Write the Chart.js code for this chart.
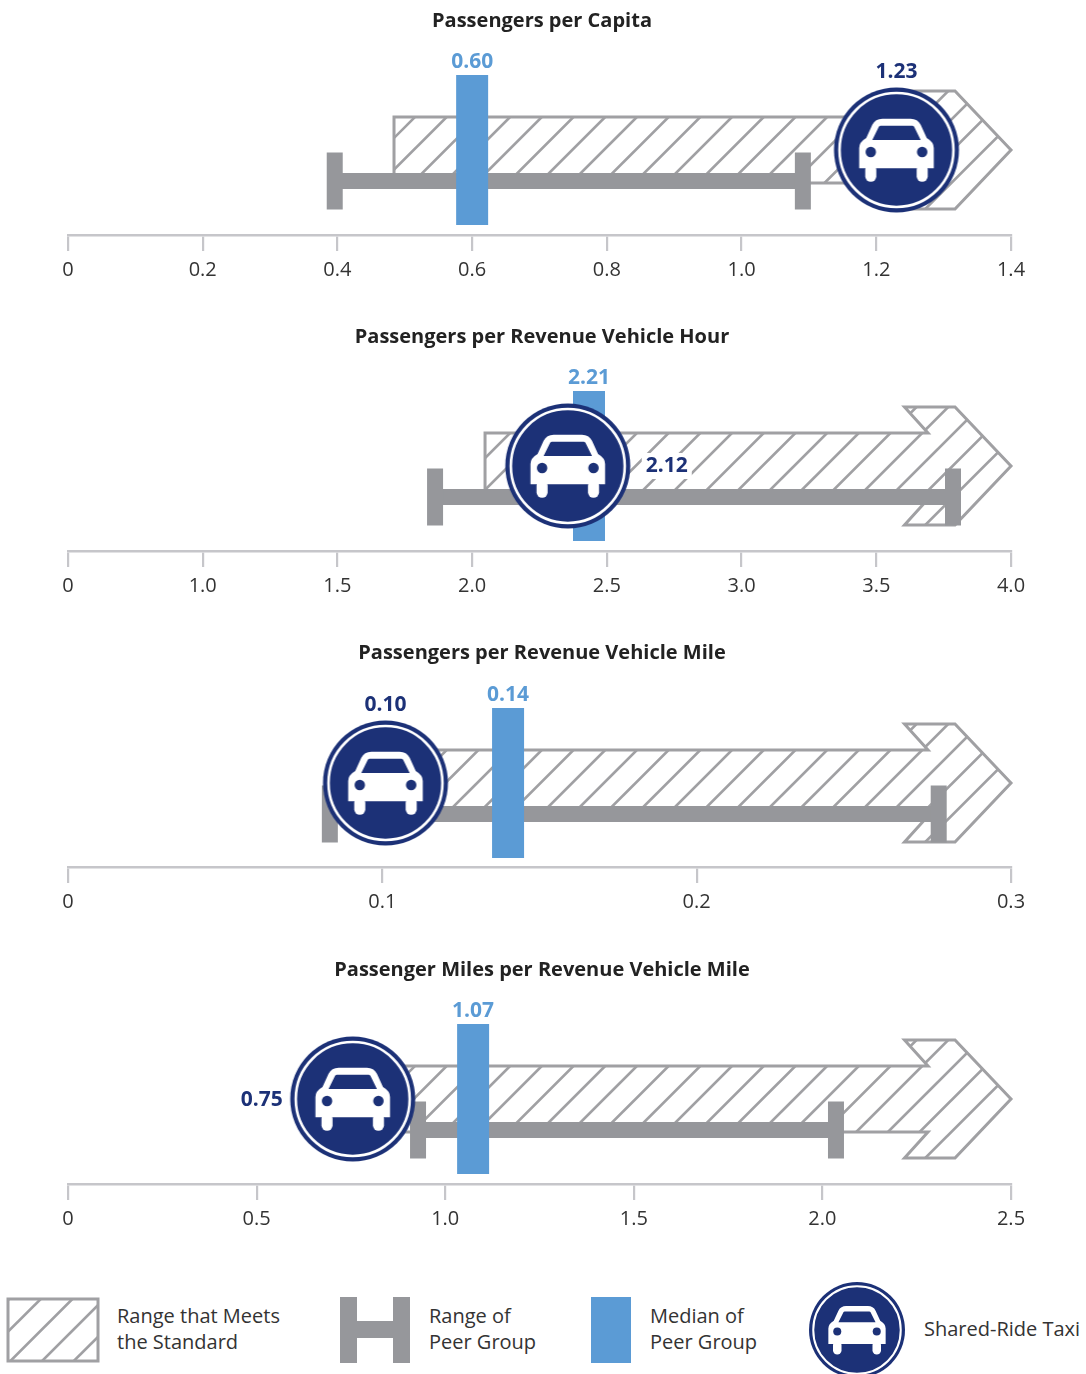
<!DOCTYPE html>
<html>
<head>
<meta charset="utf-8">
<title>Peer comparison of shared-ride taxi performance</title>
<script src="https://cdn.jsdelivr.net/npm/chart.js@4"></script>
<style>
  html, body { margin: 0; padding: 0; background: #fff; width: 1086px; height: 1374px; overflow: hidden; }
  body { position: relative; font-family: "Open Sans", sans-serif; color: #333; }
  .panel { position: absolute; left: 0; display: block; }
  .key { position: absolute; display: block; }
  .keytext { position: absolute; font-size: 20px; line-height: 26px; white-space: nowrap; color: #333; }
</style>
</head>
<body>
<canvas class="panel" id="panel0" width="1086" height="290" style="top:0"></canvas>
<canvas class="panel" id="panel1" width="1086" height="290" style="top:316px"></canvas>
<canvas class="panel" id="panel2" width="1086" height="290" style="top:632px"></canvas>
<canvas class="panel" id="panel3" width="1086" height="290" style="top:949px"></canvas>

<canvas class="key" id="keyStandard" width="96" height="70" style="left:5px;top:1295px"></canvas>
<div class="keytext" style="left:117px;top:1303px">Range that Meets<br>the Standard</div>
<canvas class="key" id="keyPeer" width="70" height="66" style="left:340px;top:1297px"></canvas>
<div class="keytext" style="left:429px;top:1303px">Range of<br>Peer Group</div>
<canvas class="key" id="keyMedian" width="40" height="66" style="left:591px;top:1297px"></canvas>
<div class="keytext" style="left:650px;top:1303px">Median of<br>Peer Group</div>
<canvas class="key" id="keyTaxi" width="100" height="100" style="left:807px;top:1280px"></canvas>
<div class="keytext" style="left:924px;top:1316px">Shared-Ride Taxi</div>

<script>
// Performance measures, one entry per panel
const titles = [
  'Passengers per Capita',
  'Passengers per Revenue Vehicle Hour',
  'Passengers per Revenue Vehicle Mile',
  'Passenger Miles per Revenue Vehicle Mile'
];
const axisMax = [1.4, 4.0, 0.3, 2.5];
const tickLabels = [
  ['0', '0.2', '0.4', '0.6', '0.8', '1.0', '1.2', '1.4'],
  ['0', '1.0', '1.5', '2.0', '2.5', '3.0', '3.5', '4.0'],
  ['0', '0.1', '0.2', '0.3'],
  ['0', '0.5', '1.0', '1.5', '2.0', '2.5']
];
const standardLow = [0.484, 1.769, 0.1, 0.85];
const standardHigh = [1.4, 4.0, 0.3, 2.5];
const peerLow = [0.396, 1.557, 0.0833, 0.928];
const peerHigh = [1.091, 3.754, 0.277, 2.036];
const peerMedian = [0.60, 2.21, 0.14, 1.074];
const taxiValue = [1.23, 2.12, 0.101, 0.7549];
const taxiLabelSide = ['top', 'right', 'top', 'left'];

const NAVY = '#1c3177';
const BLUE = '#5b9bd5';
const GREY = '#96979b';
const HATCH = '#a0a0a3';
const AXIS = '#c6c6ca';
const FONT = '"Open Sans", sans-serif';

// Vertical lanes, in pixels above the axis line
const LANE_CENTRE = 85;
const LANE_PEER = 54;
const PLOT_HEIGHT = 195;
const laneNudge = [0, 0, -1, 0];

// Diagonal fill clipped to whatever path the caller has already traced
function strokeHatch(ctx, x0, y0, x1, y1, phase) {
  const step = 31.7;
  ctx.lineWidth = 2.6;
  ctx.strokeStyle = HATCH;
  const first = Math.floor((x0 + y0 - phase) / step) * step + phase;
  for (let c = first; c < x1 + y1 + step; c += step) {
    ctx.beginPath();
    ctx.moveTo(c - y0, y0);
    ctx.lineTo(c - y1, y1);
    ctx.stroke();
  }
}

// Taxi badge: navy disc, white ring, front view of a car
function drawBadge(ctx, cx, cy, r) {
  const k = r / 62;
  ctx.save();
  ctx.translate(cx, cy);
  ctx.scale(k, k);
  ctx.fillStyle = NAVY;
  ctx.beginPath(); ctx.arc(0, 0, 62, 0, Math.PI * 2); ctx.fill();
  ctx.strokeStyle = '#fff';
  ctx.lineWidth = 2.6;
  ctx.beginPath(); ctx.arc(0, 0, 56.5, 0, Math.PI * 2); ctx.stroke();

  ctx.fillStyle = '#fff';
  ctx.beginPath();
  ctx.moveTo(-37, 18);
  ctx.lineTo(-37, -2);
  ctx.quadraticCurveTo(-37, -8, -30, -12);
  ctx.lineTo(-24, -25);
  ctx.quadraticCurveTo(-21, -31, -14, -31);
  ctx.lineTo(14, -31);
  ctx.quadraticCurveTo(21, -31, 24, -25);
  ctx.lineTo(30, -12);
  ctx.quadraticCurveTo(37, -8, 37, -2);
  ctx.lineTo(37, 18);
  ctx.closePath();
  ctx.fill();
  for (const side of [-1, 1]) {
    ctx.beginPath();
    ctx.roundRect(side * 25.5 - 5.5, 14, 11, 17.5, 5.5);
    ctx.fill();
  }
  ctx.fillStyle = NAVY;
  ctx.beginPath();
  ctx.moveTo(-16, -24);
  ctx.lineTo(16, -24);
  ctx.quadraticCurveTo(17.5, -24, 18.5, -21);
  ctx.lineTo(24, -10);
  ctx.lineTo(-24, -10);
  ctx.lineTo(-18.5, -21);
  ctx.quadraticCurveTo(-17.5, -24, -16, -24);
  ctx.fill();
  for (const side of [-1, 1]) {
    ctx.beginPath(); ctx.arc(side * 25.5, 2, 5.2, 0, Math.PI * 2); ctx.fill();
  }
  ctx.restore();
}

const badgeSprite = document.createElement('canvas');
badgeSprite.width = 128;
badgeSprite.height = 128;
drawBadge(badgeSprite.getContext('2d'), 64, 64, 62.5);

// Hatched arrow for the standard range, traced from its dataset's two points
const standardArrow = {
  id: 'standardArrow',
  afterLayout(chart) {
    // Centre the heading on the page rather than on the plot
    chart.titleBlock.left += 2.5;
    chart.titleBlock.right += 2.5;
  },
  beforeDatasetsDraw(chart) {
    const pts = chart.getDatasetMeta(0).data;
    if (!pts.length) return;
    const ctx = chart.ctx;
    const left = pts[0].x, tip = pts[1].x, cy = pts[0].y;
    const shaft = 33, head = 59;
    const trace = () => {
      ctx.beginPath();
      ctx.moveTo(left, cy - shaft);
      ctx.lineTo(tip - 83, cy - shaft);
      ctx.lineTo(tip - 106.5, cy - head);
      ctx.lineTo(tip - 56, cy - head);
      ctx.lineTo(tip, cy);
      ctx.lineTo(tip - 56, cy + head);
      ctx.lineTo(tip - 106.5, cy + head);
      ctx.lineTo(tip - 83, cy + shaft);
      ctx.lineTo(left, cy + shaft);
      ctx.closePath();
    };
    ctx.save();
    ctx.save();
    trace();
    ctx.clip();
    strokeHatch(ctx, left, cy - head, tip, cy + head, 532 + cy - 150);
    ctx.restore();
    trace();
    ctx.lineJoin = 'miter';
    ctx.lineWidth = 3;
    ctx.strokeStyle = HATCH;
    ctx.stroke();
    ctx.restore();
  }
};

// Value captions for the median and the taxi badge
const valueLabels = {
  id: 'valueLabels',
  afterDatasetsDraw(chart, args, opts) {
    const ctx = chart.ctx;
    const median = chart.getDatasetMeta(2).data[0];
    const taxi = chart.getDatasetMeta(3).data[0];
    ctx.save();
    ctx.font = 'bold 21px ' + FONT;
    ctx.textAlign = 'center';
    ctx.textBaseline = 'middle';
    ctx.fillStyle = BLUE;
    ctx.fillText(opts.medianText, median.x, median.y - 88);

    let lx = taxi.x, ly = taxi.y;
    if (opts.side === 'top') ly -= 78;
    if (opts.side === 'right') lx += 99;
    if (opts.side === 'left') { lx -= 91; ly += 1; }
    if (opts.side === 'right') {
      ctx.fillStyle = '#fff';
      ctx.fillRect(lx - 25, ly - 13, 50, 26);
    }
    ctx.fillStyle = NAVY;
    ctx.fillText(opts.taxiText, lx, ly);
    ctx.restore();
  }
};

titles.forEach((title, i) => {
  const labels = tickLabels[i];
  const tickValues = labels.map((_, n) => axisMax[i] * n / (labels.length - 1));
  const centre = LANE_CENTRE + laneNudge[i];
  const peerLane = LANE_PEER + laneNudge[i];
  new Chart(document.getElementById('panel' + i), {
    type: 'scatter',
    plugins: [standardArrow, valueLabels],
    data: {
      datasets: [
        {
          label: 'Range that Meets the Standard',
          data: [{ x: standardLow[i], y: centre }, { x: standardHigh[i], y: centre }],
          pointRadius: 0,
          showLine: false,
          order: 4
        },
        {
          label: 'Range of Peer Group',
          data: [{ x: peerLow[i], y: peerLane }, { x: peerHigh[i], y: peerLane }],
          showLine: true,
          borderColor: GREY,
          borderWidth: 16,
          pointStyle: 'line',
          rotation: 90,
          pointRadius: 28.5,
          pointBorderColor: GREY,
          pointBorderWidth: 16,
          clip: false,
          order: 3
        },
        {
          label: 'Median of Peer Group',
          data: [{ x: peerMedian[i], y: centre }],
          pointStyle: 'line',
          rotation: 90,
          pointRadius: 75,
          pointBorderColor: BLUE,
          pointBorderWidth: 32,
          clip: false,
          order: 2
        },
        {
          label: 'Shared-Ride Taxi',
          data: [{ x: taxiValue[i], y: centre }],
          pointStyle: badgeSprite,
          pointRadius: 62,
          clip: false,
          order: 1
        }
      ]
    },
    options: {
      responsive: false,
      animation: false,
      events: [],
      layout: { autoPadding: false, padding: { left: 68, right: 75, top: 0, bottom: 0 } },
      plugins: {
        legend: { display: false },
        tooltip: { enabled: false },
        title: {
          display: true,
          text: title,
          color: '#222',
          font: { family: FONT, size: 20, weight: 'bold', lineHeight: 1.2 },
          padding: { top: 9, bottom: 7 }
        },
        valueLabels: {
          medianText: peerMedian[i].toFixed(2),
          taxiText: taxiValue[i].toFixed(2),
          side: taxiLabelSide[i]
        }
      },
      scales: {
        y: { display: false, min: 0, max: PLOT_HEIGHT },
        x: {
          type: 'linear',
          min: 0,
          max: axisMax[i],
          afterBuildTicks(scale) { scale.ticks = tickValues.map(value => ({ value })); },
          afterFit(scale) { scale.height = 55; scale.paddingLeft = 0; scale.paddingRight = 0; },
          border: { color: AXIS, width: 2.6 },
          grid: { drawOnChartArea: false, drawTicks: true, tickLength: 16, color: AXIS, lineWidth: 2.2 },
          ticks: {
            color: '#333',
            font: { family: FONT, size: 20 },
            padding: 7,
            autoSkip: false,
            maxRotation: 0,
            callback: (value, n) => labels[n]
          }
        }
      }
    }
  });
});

// Legend swatches
(function drawKey() {
  let c = document.getElementById('keyStandard').getContext('2d');
  c.save();
  c.beginPath(); c.rect(3, 4, 90, 62); c.clip();
  strokeHatch(c, 3, 4, 93, 66, 8);
  c.restore();
  c.strokeStyle = HATCH; c.lineWidth = 3;
  c.strokeRect(3, 4, 90, 62);

  c = document.getElementById('keyPeer').getContext('2d');
  c.fillStyle = GREY;
  c.fillRect(0, 0, 17, 66);
  c.fillRect(53, 0, 17, 66);
  c.fillRect(0, 24, 70, 17);

  c = document.getElementById('keyMedian').getContext('2d');
  c.fillStyle = BLUE;
  c.fillRect(0, 0, 40, 66);

  c = document.getElementById('keyTaxi').getContext('2d');
  drawBadge(c, 50, 50, 48);
})();
</script>
</body>
</html>
